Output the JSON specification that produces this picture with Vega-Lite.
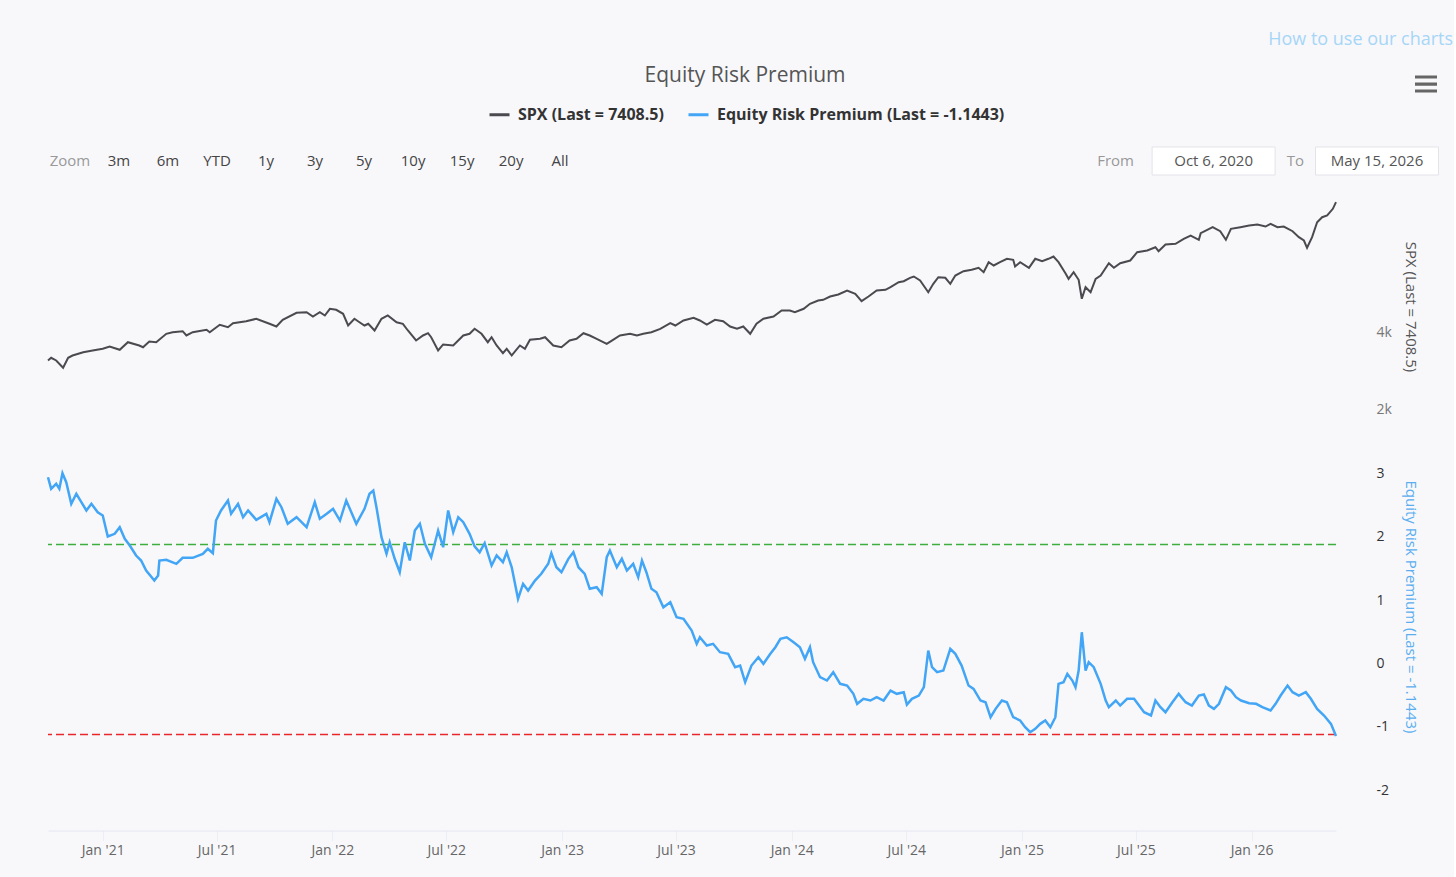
{
  "$schema": "https://vega.github.io/schema/vega-lite/v6.json",
  "background": "#f8f8fb",
  "padding": {"left": 43, "top": 28, "right": 0, "bottom": 22},
  "config": {
    "font": "Open Sans",
    "view": {"stroke": null},
    "axis": {"labelFont": "Open Sans", "titleFont": "Open Sans"},
    "legend": {"labelFont": "Open Sans"}
  },
  "datasets": {
    "header": [
      {"label": "How to use our charts", "kind": "link", "row": "link"},
      {"label": "Equity Risk Premium", "kind": "title", "row": "title"},
      {"label": "menu", "kind": "menu", "row": "title"},
      {"label": "Zoom", "kind": "caption", "row": "zoom"},
      {"label": "3m", "kind": "button", "row": "zoom"},
      {"label": "6m", "kind": "button", "row": "zoom"},
      {"label": "YTD", "kind": "button", "row": "zoom"},
      {"label": "1y", "kind": "button", "row": "zoom"},
      {"label": "3y", "kind": "button", "row": "zoom"},
      {"label": "5y", "kind": "button", "row": "zoom"},
      {"label": "10y", "kind": "button", "row": "zoom"},
      {"label": "15y", "kind": "button", "row": "zoom"},
      {"label": "20y", "kind": "button", "row": "zoom"},
      {"label": "All", "kind": "button", "row": "zoom"},
      {"label": "From", "kind": "caption", "row": "zoom"},
      {"label": "Oct 6, 2020", "kind": "date", "row": "zoom"},
      {"label": "To", "kind": "caption", "row": "zoom"},
      {"label": "May 15, 2026", "kind": "date", "row": "zoom"}
    ],
    "spx": [
      {"date": "2020-10-06", "spx": 3284}, {"date": "2020-10-11", "spx": 3354}, {"date": "2020-10-19", "spx": 3284}, {"date": "2020-10-30", "spx": 3094},
      {"date": "2020-11-07", "spx": 3354}, {"date": "2020-11-14", "spx": 3414}, {"date": "2020-12-01", "spx": 3500}, {"date": "2020-12-16", "spx": 3544},
      {"date": "2021-01-01", "spx": 3589}, {"date": "2021-01-12", "spx": 3648}, {"date": "2021-01-28", "spx": 3563}, {"date": "2021-02-10", "spx": 3760},
      {"date": "2021-02-28", "spx": 3675}, {"date": "2021-03-06", "spx": 3630}, {"date": "2021-03-16", "spx": 3779}, {"date": "2021-03-27", "spx": 3760},
      {"date": "2021-04-12", "spx": 3979}, {"date": "2021-04-22", "spx": 4021}, {"date": "2021-05-08", "spx": 4047}, {"date": "2021-05-14", "spx": 3935},
      {"date": "2021-05-24", "spx": 4021}, {"date": "2021-06-15", "spx": 4083}, {"date": "2021-06-20", "spx": 4021}, {"date": "2021-07-06", "spx": 4214},
      {"date": "2021-07-19", "spx": 4151}, {"date": "2021-07-27", "spx": 4255}, {"date": "2021-08-17", "spx": 4307}, {"date": "2021-09-02", "spx": 4370},
      {"date": "2021-09-23", "spx": 4240}, {"date": "2021-10-04", "spx": 4169}, {"date": "2021-10-14", "spx": 4344}, {"date": "2021-11-05", "spx": 4526},
      {"date": "2021-11-21", "spx": 4542}, {"date": "2021-12-01", "spx": 4430}, {"date": "2021-12-12", "spx": 4542}, {"date": "2021-12-20", "spx": 4456},
      {"date": "2021-12-28", "spx": 4630}, {"date": "2022-01-07", "spx": 4604}, {"date": "2022-01-18", "spx": 4500}, {"date": "2022-01-26", "spx": 4195},
      {"date": "2022-02-05", "spx": 4370}, {"date": "2022-02-13", "spx": 4281}, {"date": "2022-02-21", "spx": 4195}, {"date": "2022-02-27", "spx": 4240},
      {"date": "2022-03-09", "spx": 4065}, {"date": "2022-03-20", "spx": 4370}, {"date": "2022-03-30", "spx": 4456}, {"date": "2022-04-13", "spx": 4281},
      {"date": "2022-04-23", "spx": 4240}, {"date": "2022-05-01", "spx": 4065}, {"date": "2022-05-14", "spx": 3805}, {"date": "2022-05-25", "spx": 3935},
      {"date": "2022-06-02", "spx": 3995}, {"date": "2022-06-07", "spx": 3891}, {"date": "2022-06-18", "spx": 3544}, {"date": "2022-06-26", "spx": 3701},
      {"date": "2022-07-12", "spx": 3675}, {"date": "2022-07-28", "spx": 3935}, {"date": "2022-08-07", "spx": 3979}, {"date": "2022-08-15", "spx": 4109},
      {"date": "2022-08-26", "spx": 3979}, {"date": "2022-09-05", "spx": 3760}, {"date": "2022-09-11", "spx": 3891}, {"date": "2022-09-19", "spx": 3675},
      {"date": "2022-09-29", "spx": 3474}, {"date": "2022-10-05", "spx": 3589}, {"date": "2022-10-13", "spx": 3414}, {"date": "2022-10-26", "spx": 3675},
      {"date": "2022-11-03", "spx": 3589}, {"date": "2022-11-11", "spx": 3823}, {"date": "2022-11-27", "spx": 3849}, {"date": "2022-12-05", "spx": 3891},
      {"date": "2022-12-18", "spx": 3675}, {"date": "2022-12-31", "spx": 3630}, {"date": "2023-01-13", "spx": 3805}, {"date": "2023-01-24", "spx": 3849},
      {"date": "2023-02-04", "spx": 3995}, {"date": "2023-02-14", "spx": 3935}, {"date": "2023-02-25", "spx": 3849}, {"date": "2023-03-13", "spx": 3719},
      {"date": "2023-03-23", "spx": 3823}, {"date": "2023-04-03", "spx": 3935}, {"date": "2023-04-19", "spx": 3979}, {"date": "2023-04-30", "spx": 3935},
      {"date": "2023-05-10", "spx": 3979}, {"date": "2023-05-23", "spx": 4021}, {"date": "2023-06-06", "spx": 4109}, {"date": "2023-06-22", "spx": 4255},
      {"date": "2023-06-30", "spx": 4195}, {"date": "2023-07-13", "spx": 4326}, {"date": "2023-07-29", "spx": 4396}, {"date": "2023-08-08", "spx": 4326},
      {"date": "2023-08-19", "spx": 4221}, {"date": "2023-09-01", "spx": 4344}, {"date": "2023-09-14", "spx": 4307}, {"date": "2023-09-25", "spx": 4169},
      {"date": "2023-10-06", "spx": 4109}, {"date": "2023-10-16", "spx": 4169}, {"date": "2023-10-27", "spx": 3979}, {"date": "2023-11-06", "spx": 4240},
      {"date": "2023-11-17", "spx": 4370}, {"date": "2023-12-03", "spx": 4430}, {"date": "2023-12-16", "spx": 4586}, {"date": "2023-12-29", "spx": 4586},
      {"date": "2024-01-06", "spx": 4542}, {"date": "2024-01-20", "spx": 4630}, {"date": "2024-01-30", "spx": 4760}, {"date": "2024-02-12", "spx": 4846},
      {"date": "2024-02-20", "spx": 4865}, {"date": "2024-03-02", "spx": 4950}, {"date": "2024-03-15", "spx": 5003}, {"date": "2024-03-29", "spx": 5107},
      {"date": "2024-04-11", "spx": 5021}, {"date": "2024-04-21", "spx": 4828}, {"date": "2024-05-02", "spx": 4950}, {"date": "2024-05-15", "spx": 5107},
      {"date": "2024-05-29", "spx": 5125}, {"date": "2024-06-06", "spx": 5193}, {"date": "2024-06-19", "spx": 5323}, {"date": "2024-06-27", "spx": 5349},
      {"date": "2024-07-07", "spx": 5437}, {"date": "2024-07-13", "spx": 5471}, {"date": "2024-07-23", "spx": 5367}, {"date": "2024-08-05", "spx": 5062},
      {"date": "2024-08-13", "spx": 5281}, {"date": "2024-08-21", "spx": 5453}, {"date": "2024-09-01", "spx": 5437}, {"date": "2024-09-09", "spx": 5281},
      {"date": "2024-09-17", "spx": 5497}, {"date": "2024-09-30", "spx": 5609}, {"date": "2024-10-13", "spx": 5646}, {"date": "2024-10-24", "spx": 5698},
      {"date": "2024-11-01", "spx": 5583}, {"date": "2024-11-09", "spx": 5844}, {"date": "2024-11-17", "spx": 5758}, {"date": "2024-11-27", "spx": 5844},
      {"date": "2024-12-08", "spx": 5932}, {"date": "2024-12-18", "spx": 5906}, {"date": "2024-12-21", "spx": 5732}, {"date": "2024-12-29", "spx": 5844},
      {"date": "2025-01-12", "spx": 5698}, {"date": "2025-01-22", "spx": 5932}, {"date": "2025-02-02", "spx": 5870}, {"date": "2025-02-12", "spx": 5932},
      {"date": "2025-02-20", "spx": 5992}, {"date": "2025-02-28", "spx": 5844}, {"date": "2025-03-11", "spx": 5557}, {"date": "2025-03-16", "spx": 5411},
      {"date": "2025-03-24", "spx": 5583}, {"date": "2025-04-01", "spx": 5385}, {"date": "2025-04-06", "spx": 4891}, {"date": "2025-04-12", "spx": 5193},
      {"date": "2025-04-20", "spx": 5062}, {"date": "2025-04-28", "spx": 5411}, {"date": "2025-05-06", "spx": 5497}, {"date": "2025-05-19", "spx": 5818},
      {"date": "2025-05-27", "spx": 5698}, {"date": "2025-06-06", "spx": 5818}, {"date": "2025-06-22", "spx": 5888}, {"date": "2025-07-03", "spx": 6104},
      {"date": "2025-07-19", "spx": 6148}, {"date": "2025-08-01", "spx": 6234}, {"date": "2025-08-06", "spx": 6130}, {"date": "2025-08-17", "spx": 6305},
      {"date": "2025-09-02", "spx": 6323}, {"date": "2025-09-15", "spx": 6453}, {"date": "2025-09-26", "spx": 6539}, {"date": "2025-10-09", "spx": 6427},
      {"date": "2025-10-12", "spx": 6599}, {"date": "2025-10-31", "spx": 6755}, {"date": "2025-11-12", "spx": 6651}, {"date": "2025-11-21", "spx": 6427},
      {"date": "2025-11-29", "spx": 6713}, {"date": "2025-12-14", "spx": 6755}, {"date": "2025-12-28", "spx": 6799}, {"date": "2026-01-10", "spx": 6825},
      {"date": "2026-01-23", "spx": 6773}, {"date": "2026-01-31", "spx": 6844}, {"date": "2026-02-11", "spx": 6755}, {"date": "2026-02-21", "spx": 6773},
      {"date": "2026-03-07", "spx": 6651}, {"date": "2026-03-17", "spx": 6495}, {"date": "2026-03-25", "spx": 6409}, {"date": "2026-03-30", "spx": 6219},
      {"date": "2026-04-07", "spx": 6495}, {"date": "2026-04-15", "spx": 6885}, {"date": "2026-04-23", "spx": 7015}, {"date": "2026-05-01", "spx": 7060},
      {"date": "2026-05-10", "spx": 7234}, {"date": "2026-05-15", "spx": 7408.5}
    ],
    "erp": [
      {"date": "2020-10-06", "erp": 2.943}, {"date": "2020-10-11", "erp": 2.760}, {"date": "2020-10-19", "erp": 2.839}, {"date": "2020-10-24", "erp": 2.760},
      {"date": "2020-10-29", "erp": 3.006}, {"date": "2020-11-04", "erp": 2.864}, {"date": "2020-11-12", "erp": 2.523}, {"date": "2020-11-20", "erp": 2.681},
      {"date": "2020-11-28", "erp": 2.548}, {"date": "2020-12-06", "erp": 2.417}, {"date": "2020-12-14", "erp": 2.523}, {"date": "2020-12-24", "erp": 2.390},
      {"date": "2021-01-01", "erp": 2.338}, {"date": "2021-01-09", "erp": 2.006}, {"date": "2021-01-20", "erp": 2.049}, {"date": "2021-01-28", "erp": 2.153},
      {"date": "2021-02-05", "erp": 1.970}, {"date": "2021-02-13", "erp": 1.864}, {"date": "2021-02-23", "erp": 1.706}, {"date": "2021-03-03", "erp": 1.627},
      {"date": "2021-03-11", "erp": 1.469}, {"date": "2021-03-24", "erp": 1.311}, {"date": "2021-03-30", "erp": 1.390}, {"date": "2021-04-01", "erp": 1.627},
      {"date": "2021-04-12", "erp": 1.638}, {"date": "2021-04-28", "erp": 1.575}, {"date": "2021-05-08", "erp": 1.670}, {"date": "2021-05-24", "erp": 1.670},
      {"date": "2021-06-09", "erp": 1.733}, {"date": "2021-06-17", "erp": 1.812}, {"date": "2021-06-25", "erp": 1.743}, {"date": "2021-06-30", "erp": 2.259},
      {"date": "2021-07-08", "erp": 2.417}, {"date": "2021-07-19", "erp": 2.575}, {"date": "2021-07-24", "erp": 2.365}, {"date": "2021-08-04", "erp": 2.523},
      {"date": "2021-08-12", "erp": 2.311}, {"date": "2021-08-20", "erp": 2.417}, {"date": "2021-09-02", "erp": 2.270}, {"date": "2021-09-18", "erp": 2.365},
      {"date": "2021-09-23", "erp": 2.232}, {"date": "2021-10-04", "erp": 2.602}, {"date": "2021-10-12", "erp": 2.469}, {"date": "2021-10-22", "erp": 2.207},
      {"date": "2021-11-05", "erp": 2.311}, {"date": "2021-11-21", "erp": 2.153}, {"date": "2021-12-04", "erp": 2.548}, {"date": "2021-12-12", "erp": 2.286},
      {"date": "2021-12-23", "erp": 2.365}, {"date": "2022-01-02", "erp": 2.444}, {"date": "2022-01-13", "erp": 2.259}, {"date": "2022-01-23", "erp": 2.575},
      {"date": "2022-02-08", "erp": 2.207}, {"date": "2022-02-21", "erp": 2.444}, {"date": "2022-03-01", "erp": 2.681}, {"date": "2022-03-07", "erp": 2.733},
      {"date": "2022-03-12", "erp": 2.469}, {"date": "2022-03-20", "erp": 1.995}, {"date": "2022-03-28", "erp": 1.733}, {"date": "2022-04-02", "erp": 1.916},
      {"date": "2022-04-10", "erp": 1.654}, {"date": "2022-04-18", "erp": 1.442}, {"date": "2022-04-26", "erp": 1.916}, {"date": "2022-05-04", "erp": 1.627},
      {"date": "2022-05-12", "erp": 2.101}, {"date": "2022-05-20", "erp": 2.207}, {"date": "2022-05-28", "erp": 1.891}, {"date": "2022-06-07", "erp": 1.679},
      {"date": "2022-06-18", "erp": 2.101}, {"date": "2022-06-26", "erp": 1.837}, {"date": "2022-07-04", "erp": 2.417}, {"date": "2022-07-12", "erp": 2.074},
      {"date": "2022-07-20", "erp": 2.311}, {"date": "2022-07-28", "erp": 2.232}, {"date": "2022-08-07", "erp": 2.049}, {"date": "2022-08-15", "erp": 1.850},
      {"date": "2022-08-23", "erp": 1.758}, {"date": "2022-08-31", "erp": 1.900}, {"date": "2022-09-11", "erp": 1.548}, {"date": "2022-09-19", "erp": 1.706},
      {"date": "2022-09-29", "erp": 1.600}, {"date": "2022-10-05", "erp": 1.758}, {"date": "2022-10-13", "erp": 1.521}, {"date": "2022-10-23", "erp": 1.022},
      {"date": "2022-10-31", "erp": 1.259}, {"date": "2022-11-08", "erp": 1.153}, {"date": "2022-11-19", "erp": 1.311}, {"date": "2022-11-29", "erp": 1.417},
      {"date": "2022-12-10", "erp": 1.575}, {"date": "2022-12-15", "erp": 1.743}, {"date": "2022-12-23", "erp": 1.521}, {"date": "2022-12-31", "erp": 1.442},
      {"date": "2023-01-11", "erp": 1.654}, {"date": "2023-01-19", "erp": 1.758}, {"date": "2023-01-27", "erp": 1.521}, {"date": "2023-02-06", "erp": 1.417},
      {"date": "2023-02-14", "erp": 1.180}, {"date": "2023-02-25", "erp": 1.205}, {"date": "2023-03-05", "erp": 1.101}, {"date": "2023-03-13", "erp": 1.679},
      {"date": "2023-03-18", "erp": 1.785}, {"date": "2023-03-29", "erp": 1.521}, {"date": "2023-04-06", "erp": 1.654}, {"date": "2023-04-14", "erp": 1.469},
      {"date": "2023-04-24", "erp": 1.575}, {"date": "2023-05-02", "erp": 1.363}, {"date": "2023-05-08", "erp": 1.627}, {"date": "2023-05-15", "erp": 1.442},
      {"date": "2023-05-23", "erp": 1.180}, {"date": "2023-05-31", "erp": 1.126}, {"date": "2023-06-11", "erp": 0.889}, {"date": "2023-06-22", "erp": 0.968},
      {"date": "2023-07-02", "erp": 0.731}, {"date": "2023-07-13", "erp": 0.706}, {"date": "2023-07-26", "erp": 0.521}, {"date": "2023-08-03", "erp": 0.311},
      {"date": "2023-08-08", "erp": 0.415}, {"date": "2023-08-19", "erp": 0.284}, {"date": "2023-08-29", "erp": 0.311}, {"date": "2023-09-09", "erp": 0.179},
      {"date": "2023-09-22", "erp": 0.153}, {"date": "2023-10-03", "erp": -0.058}, {"date": "2023-10-11", "erp": -0.032}, {"date": "2023-10-19", "erp": -0.295},
      {"date": "2023-10-29", "erp": -0.032}, {"date": "2023-11-09", "erp": 0.100}, {"date": "2023-11-17", "erp": -0.005}, {"date": "2023-11-28", "erp": 0.153},
      {"date": "2023-12-06", "erp": 0.258}, {"date": "2023-12-14", "erp": 0.390}, {"date": "2023-12-24", "erp": 0.415}, {"date": "2024-01-04", "erp": 0.336},
      {"date": "2024-01-14", "erp": 0.258}, {"date": "2024-01-22", "erp": 0.074}, {"date": "2024-01-30", "erp": 0.258}, {"date": "2024-02-04", "erp": 0.021},
      {"date": "2024-02-15", "erp": -0.216}, {"date": "2024-02-26", "erp": -0.269}, {"date": "2024-03-07", "erp": -0.137}, {"date": "2024-03-18", "erp": -0.321},
      {"date": "2024-03-29", "erp": -0.348}, {"date": "2024-04-08", "erp": -0.479}, {"date": "2024-04-14", "erp": -0.637}, {"date": "2024-04-24", "erp": -0.558},
      {"date": "2024-05-05", "erp": -0.585}, {"date": "2024-05-15", "erp": -0.532}, {"date": "2024-05-26", "erp": -0.585}, {"date": "2024-06-06", "erp": -0.427},
      {"date": "2024-06-16", "erp": -0.479}, {"date": "2024-06-27", "erp": -0.453}, {"date": "2024-07-02", "erp": -0.650}, {"date": "2024-07-10", "erp": -0.558},
      {"date": "2024-07-21", "erp": -0.506}, {"date": "2024-07-29", "erp": -0.374}, {"date": "2024-08-05", "erp": 0.205}, {"date": "2024-08-11", "erp": -0.058},
      {"date": "2024-08-19", "erp": -0.137}, {"date": "2024-08-29", "erp": -0.111}, {"date": "2024-09-09", "erp": 0.232}, {"date": "2024-09-17", "erp": 0.153},
      {"date": "2024-09-27", "erp": -0.032}, {"date": "2024-10-08", "erp": -0.348}, {"date": "2024-10-16", "erp": -0.400}, {"date": "2024-10-27", "erp": -0.585},
      {"date": "2024-11-04", "erp": -0.611}, {"date": "2024-11-12", "erp": -0.848}, {"date": "2024-11-20", "erp": -0.716}, {"date": "2024-11-30", "erp": -0.585},
      {"date": "2024-12-08", "erp": -0.611}, {"date": "2024-12-18", "erp": -0.848}, {"date": "2024-12-29", "erp": -0.900}, {"date": "2025-01-06", "erp": -1.006},
      {"date": "2025-01-14", "erp": -1.085}, {"date": "2025-01-22", "erp": -1.032}, {"date": "2025-01-30", "erp": -0.953}, {"date": "2025-02-07", "erp": -0.900},
      {"date": "2025-02-15", "erp": -1.006}, {"date": "2025-02-23", "erp": -0.848}, {"date": "2025-02-28", "erp": -0.321}, {"date": "2025-03-08", "erp": -0.295},
      {"date": "2025-03-14", "erp": -0.163}, {"date": "2025-03-22", "erp": -0.269}, {"date": "2025-03-27", "erp": -0.374}, {"date": "2025-04-01", "erp": -0.111},
      {"date": "2025-04-06", "erp": 0.494}, {"date": "2025-04-12", "erp": -0.111}, {"date": "2025-04-17", "erp": 0.021}, {"date": "2025-04-25", "erp": -0.058},
      {"date": "2025-05-06", "erp": -0.321}, {"date": "2025-05-14", "erp": -0.585}, {"date": "2025-05-19", "erp": -0.690}, {"date": "2025-05-30", "erp": -0.585},
      {"date": "2025-06-06", "erp": -0.664}, {"date": "2025-06-17", "erp": -0.558}, {"date": "2025-06-28", "erp": -0.558}, {"date": "2025-07-06", "erp": -0.664},
      {"date": "2025-07-14", "erp": -0.769}, {"date": "2025-07-25", "erp": -0.821}, {"date": "2025-08-01", "erp": -0.585}, {"date": "2025-08-09", "erp": -0.690},
      {"date": "2025-08-17", "erp": -0.769}, {"date": "2025-08-28", "erp": -0.611}, {"date": "2025-09-07", "erp": -0.479}, {"date": "2025-09-18", "erp": -0.611},
      {"date": "2025-09-28", "erp": -0.664}, {"date": "2025-10-09", "erp": -0.506}, {"date": "2025-10-17", "erp": -0.490}, {"date": "2025-10-25", "erp": -0.664},
      {"date": "2025-11-02", "erp": -0.716}, {"date": "2025-11-10", "erp": -0.637}, {"date": "2025-11-21", "erp": -0.374}, {"date": "2025-11-29", "erp": -0.427},
      {"date": "2025-12-07", "erp": -0.532}, {"date": "2025-12-15", "erp": -0.585}, {"date": "2025-12-28", "erp": -0.627}, {"date": "2026-01-08", "erp": -0.637},
      {"date": "2026-01-18", "erp": -0.690}, {"date": "2026-01-31", "erp": -0.742}, {"date": "2026-02-08", "erp": -0.637}, {"date": "2026-02-16", "erp": -0.506},
      {"date": "2026-02-27", "erp": -0.348}, {"date": "2026-03-07", "erp": -0.453}, {"date": "2026-03-17", "erp": -0.506}, {"date": "2026-03-28", "erp": -0.453},
      {"date": "2026-04-05", "erp": -0.558}, {"date": "2026-04-15", "erp": -0.716}, {"date": "2026-04-26", "erp": -0.821}, {"date": "2026-05-07", "erp": -0.953},
      {"date": "2026-05-15", "erp": -1.1443}
    ]
  },
  "spacing": 11.5,
  "resolve": {
    "scale": {"x": "independent", "y": "independent", "color": "shared"},
    "legend": {"color": "shared"}
  },
  "vconcat": [
    {
      "width": 1400,
      "height": 145,
      "data": {"name": "header"},
      "encoding": {
        "x": {
          "field": "label",
          "type": "nominal",
          "axis": null,
          "scale": {
            "type": "band",
            "paddingInner": 0,
            "paddingOuter": 0.847,
            "domain": [
              "Zoom", "_1", "_2", "3m", "_4", "_5", "6m", "_7", "_8", "YTD",
              "_10", "_11", "1y", "_13", "_14", "3y", "_16", "_17", "5y", "_19",
              "_20", "10y", "_22", "_23", "15y", "_25", "_26", "20y", "_28", "_29",
              "All", "_31", "_32", "_33", "_34", "_35", "_36", "_37", "_38", "_39",
              "_40", "Equity Risk Premium", "_42", "_43", "_44", "_45", "_46", "_47", "_48", "_49",
              "_50", "_51", "_52", "_53", "_54", "_55", "_56", "_57", "_58", "_59",
              "_60", "_61", "_62", "_63", "From", "_65", "_66", "_67", "_68", "_69",
              "Oct 6, 2020", "_71", "_72", "_73", "_74", "To", "_76", "_77", "_78", "How to use our charts",
              "May 15, 2026", "_81", "_82", "menu"
            ]
          }
        },
        "y": {
          "field": "row",
          "type": "nominal",
          "axis": null,
          "scale": {
            "type": "point",
            "padding": 0.992,
            "domain": ["link", "_y1", "_y2", "title", "_y4", "_y5", "_y6", "_y7", "_y8", "_y9", "zoom"]
          }
        }
      },
      "layer": [
        {
          "transform": [{"filter": "datum.kind == 'date'"}],
          "mark": {"type": "point", "shape": "M-1,-0.228H1V0.228H-1Z", "size": 15129, "filled": true, "fill": "#ffffff", "stroke": "#e3e3ea", "strokeWidth": 1, "opacity": 1}
        },
        {
          "transform": [{"filter": "datum.kind == 'menu'"}],
          "mark": {"type": "point", "shape": "M-1,-0.08H1V0.21H-1Z M-1,0.56H1V0.85H-1Z M-1,1.19H1V1.48H-1Z", "size": 484, "filled": true, "fill": "#666666", "strokeWidth": 0, "opacity": 1}
        },
        {
          "transform": [{"filter": "datum.kind == 'button'"}],
          "mark": {"type": "text", "fontSize": 15, "color": "#444444"},
          "encoding": {"text": {"field": "label"}}
        },
        {
          "transform": [{"filter": "datum.kind == 'caption'"}],
          "mark": {"type": "text", "fontSize": 15, "color": "#999999"},
          "encoding": {"text": {"field": "label"}}
        },
        {
          "transform": [{"filter": "datum.kind == 'date'"}],
          "mark": {"type": "text", "fontSize": 15, "color": "#555555"},
          "encoding": {"text": {"field": "label"}}
        },
        {
          "transform": [{"filter": "datum.kind == 'title'"}],
          "mark": {"type": "text", "fontSize": 21, "color": "#555555"},
          "encoding": {
            "x": {"field": "label", "type": "nominal", "bandPosition": 0.82},
            "text": {"field": "label"}
          }
        },
        {
          "transform": [{"filter": "datum.kind == 'link'"}],
          "mark": {"type": "text", "fontSize": 18, "color": "#a6d6f7"},
          "encoding": {"text": {"field": "label"}}
        }
      ]
    },
    {
      "spacing": 16,
      "resolve": {
        "scale": {"x": "independent", "y": "independent", "color": "shared"},
        "legend": {"color": "shared"}
      },
      "vconcat": [
        {
          "width": 1288,
          "height": 235,
          "data": {"name": "spx"},
          "mark": {"type": "line", "strokeWidth": 2},
          "encoding": {
            "x": {
              "field": "date",
              "type": "temporal",
              "axis": null,
              "scale": {"domain": [{"year": 2020, "month": 10, "date": 6}, {"year": 2026, "month": 5, "date": 15}]}
            },
            "y": {
              "field": "spx",
              "type": "quantitative",
              "scale": {"domain": [1617, 7737], "nice": false, "zero": false},
              "axis": {
                "orient": "right",
                "values": [2000, 4000],
                "labelExpr": "datum.value / 1000 + 'k'",
                "grid": false,
                "domain": false,
                "ticks": false,
                "labelPadding": 40,
                "labelColor": "#777777",
                "labelFontSize": 14,
                "title": "SPX (Last = 7408.5)",
                "titleColor": "#555555",
                "titleFontSize": 15,
                "titleFontWeight": "normal",
                "titleAngle": 90,
                "titleX": 74,
                "titleY": 117,
                "titleAlign": "center",
                "titleBaseline": "middle"
              }
            },
            "color": {
              "datum": "SPX (Last = 7408.5)",
              "type": "nominal",
              "scale": {
                "domain": ["SPX (Last = 7408.5)", "Equity Risk Premium (Last = -1.1443)"],
                "range": ["#4a4a4f", "#42a5f5"]
              },
              "legend": {
                "orient": "none",
                "legendX": 440,
                "legendY": 75,
                "direction": "horizontal",
                "title": null,
                "symbolType": "stroke",
                "symbolSize": 400,
                "symbolStrokeWidth": 3,
                "labelFontSize": 16,
                "labelFontWeight": "bold",
                "labelColor": "#333333",
                "labelOffset": 7,
                "labelLimit": 400,
                "columnPadding": 18
              }
            }
          }
        },
        {
          "width": 1288,
          "height": 390,
          "layer": [
            {
              "data": {"values": [{"level": 1.88}]},
              "mark": {"type": "rule", "color": "#3fae3f", "strokeWidth": 1.5, "strokeDash": [8, 4]},
              "encoding": {"y": {"field": "level", "type": "quantitative"}}
            },
            {
              "data": {"values": [{"level": -1.12}]},
              "mark": {"type": "rule", "color": "#e8262b", "strokeWidth": 1.5, "strokeDash": [8, 4]},
              "encoding": {"y": {"field": "level", "type": "quantitative"}}
            },
            {
              "data": {"name": "erp"},
              "mark": {"type": "line", "strokeWidth": 2.5},
              "encoding": {
                "x": {
                  "field": "date",
                  "type": "temporal",
                  "scale": {"domain": [{"year": 2020, "month": 10, "date": 6}, {"year": 2026, "month": 5, "date": 15}]},
                  "axis": {
                    "values": [
                      {"year": 2021, "month": 1, "date": 1}, {"year": 2021, "month": 7, "date": 1},
                      {"year": 2022, "month": 1, "date": 1}, {"year": 2022, "month": 7, "date": 1},
                      {"year": 2023, "month": 1, "date": 1}, {"year": 2023, "month": 7, "date": 1},
                      {"year": 2024, "month": 1, "date": 1}, {"year": 2024, "month": 7, "date": 1},
                      {"year": 2025, "month": 1, "date": 1}, {"year": 2025, "month": 7, "date": 1},
                      {"year": 2026, "month": 1, "date": 1}
                    ],
                    "format": "%b '%y",
                    "title": null,
                    "grid": false,
                    "domainColor": "#e4e6f2",
                    "tickColor": "#eceef5",
                    "tickSize": 10,
                    "labelPadding": 3,
                    "labelColor": "#666666",
                    "labelFontSize": 14
                  }
                },
                "y": {
                  "field": "erp",
                  "type": "quantitative",
                  "scale": {"domain": [-2.638, 3.523], "nice": false, "zero": false},
                  "axis": {
                    "orient": "right",
                    "values": [-2, -1, 0, 1, 2, 3],
                    "labelExpr": "'' + datum.value",
                    "grid": false,
                    "domain": false,
                    "ticks": false,
                    "labelPadding": 40,
                    "labelColor": "#333333",
                    "labelFontSize": 14,
                    "title": "Equity Risk Premium (Last = -1.1443)",
                    "titleColor": "#5aaeef",
                    "titleFontSize": 15,
                    "titleFontWeight": "normal",
                    "titleAngle": 90,
                    "titleX": 74,
                    "titleY": 166,
                    "titleAlign": "center",
                    "titleBaseline": "middle"
                  }
                },
                "color": {
                  "datum": "Equity Risk Premium (Last = -1.1443)",
                  "type": "nominal",
                  "scale": {
                    "domain": ["SPX (Last = 7408.5)", "Equity Risk Premium (Last = -1.1443)"],
                    "range": ["#4a4a4f", "#42a5f5"]
                  }
                }
              }
            }
          ]
        }
      ]
    }
  ]
}
